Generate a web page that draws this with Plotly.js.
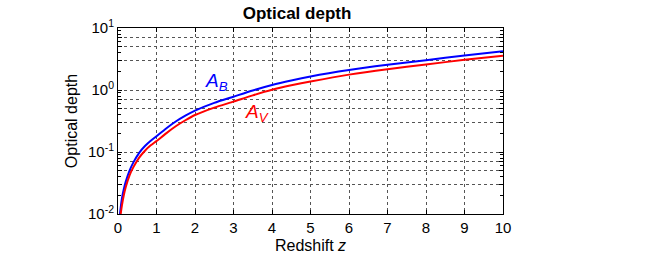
<!DOCTYPE html>
<html>
<head>
<meta charset="utf-8">
<script src="https://cdn.plot.ly/plotly-3.0.1.min.js"></script>
<style>html,body{margin:0;padding:0;background:#fff;}#chart{width:667px;height:262px;}</style>
</head>
<body>
<div id="chart"></div>
<script>
// Redshift z and optical depth values
const zB = [0.05, 0.1, 0.15, 0.2, 0.3, 0.4, 0.55, 0.7, 0.85, 1, 1.25, 1.5, 1.75, 2, 2.5, 3, 3.5, 4, 4.5, 5, 6, 7, 8, 9, 10];
const AB = [0.0100, 0.0175, 0.025, 0.033, 0.05, 0.068, 0.097, 0.125, 0.152, 0.18, 0.24, 0.31, 0.385, 0.465, 0.62, 0.78, 0.98, 1.2, 1.42, 1.65, 2.1, 2.55, 3.03, 3.6, 4.2];
const zV = [0.07, 0.1, 0.15, 0.2, 0.3, 0.4, 0.55, 0.7, 0.85, 1, 1.25, 1.5, 1.75, 2, 2.5, 3, 3.5, 4, 4.5, 5, 6, 7, 8, 9, 10];
const AV = [0.0100, 0.0135, 0.020, 0.027, 0.042, 0.057, 0.081, 0.105, 0.128, 0.15, 0.20, 0.26, 0.325, 0.395, 0.52, 0.65, 0.82, 1.01, 1.19, 1.37, 1.77, 2.17, 2.58, 3.07, 3.56];
const xTicks = [0, 1, 2, 3, 4, 5, 6, 7, 8, 9, 10];
const yDecades = [0.01, 0.1, 1, 10];
const yDecadeLabels = ['10<sup>-2</sup>', '10<sup>-1</sup>', '10<sup>0</sup>', '10<sup>1</sup>'];
const gridMultiples = [3, 5, 7];
const tickOnlyMultiples = [2, 4, 6, 8, 9];

const yMajorVals = [], yMajorText = [], yMinorVals = [];
yDecades.forEach((d, i) => {
  yMajorVals.push(d); yMajorText.push(yDecadeLabels[i]);
  if (i < yDecades.length - 1) {
    gridMultiples.forEach(m => { yMajorVals.push(d * m); yMajorText.push(''); });
    tickOnlyMultiples.forEach(m => yMinorVals.push(d * m));
  }
});

const font = 'Liberation Sans, Arial, sans-serif';
const traces = [
  {x: zB, y: AB, mode: 'lines', line: {color: '#0000ff', width: 2, shape: 'spline', smoothing: 0.6}, showlegend: false, hoverinfo: 'none'},
  {x: zV, y: AV, mode: 'lines', line: {color: '#ff0000', width: 2, shape: 'spline', smoothing: 0.6}, showlegend: false, hoverinfo: 'none'}
];
const layout = {
  width: 667, height: 262,
  margin: {l: 118, r: 164, t: 28, b: 48},
  paper_bgcolor: '#fff', plot_bgcolor: '#fff',
  font: {family: font, color: '#000', size: 15},
  title: {text: '<b>Optical depth</b>', x: 0.465, xref: 'paper', xanchor: 'center', y: 0.95, yref: 'container', yanchor: 'middle', font: {size: 17, family: font, color: '#000'}},
  xaxis: {
    range: [0, 10], tickvals: xTicks, ticks: 'inside', ticklen: 4, tickcolor: '#000',
    showline: true, linecolor: '#000', linewidth: 1, mirror: 'ticks',
    showgrid: true, gridcolor: '#555', griddash: 'dot', gridwidth: 1, zeroline: false,
    tickfont: {size: 15}, title: {text: 'Redshift <i>z</i>', font: {size: 16}, standoff: 4}
  },
  yaxis: {
    type: 'log', range: [-2, 1], tickvals: yMajorVals, ticktext: yMajorText, ticks: 'inside', ticklen: 4, tickcolor: '#000',
    showline: true, linecolor: '#000', linewidth: 1, mirror: 'ticks',
    showgrid: true, gridcolor: '#555', griddash: 'dot', gridwidth: 1, zeroline: false,
    tickfont: {size: 15}, title: {text: 'Optical depth', font: {size: 16}, standoff: 6},
    minor: {tickvals: yMinorVals, ticks: 'inside', ticklen: 3, tickcolor: '#000', showgrid: false}
  },
  annotations: [
    {x: 2.55, y: Math.log10(1.34), xref: 'x', yref: 'y', text: '<i>A</i><sub><i>B</i></sub>', showarrow: false, font: {size: 19, color: '#0000ff', family: font}, xanchor: 'center', yanchor: 'middle'},
    {x: 3.62, y: Math.log10(0.43), xref: 'x', yref: 'y', text: '<i>A</i><sub><i>V</i></sub>', showarrow: false, font: {size: 19, color: '#ff0000', family: font}, xanchor: 'center', yanchor: 'middle'}
  ]
};
Plotly.newPlot('chart', traces, layout, {staticPlot: true, displayModeBar: false});
</script>
</body>
</html>
